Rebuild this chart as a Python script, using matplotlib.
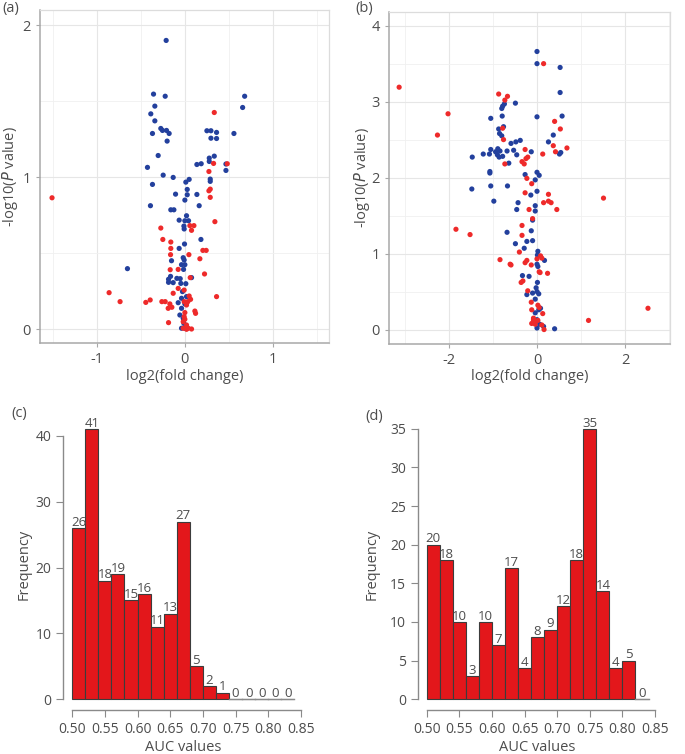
import numpy as np
import matplotlib
matplotlib.use("Agg")
import matplotlib.pyplot as plt

plt.rcParams['font.family'] = ['Open Sans', 'DejaVu Sans']

# ---- panel (a) volcano data
a_blue_x = [-0.213, -0.357, -0.224, -0.342, -0.388, -0.342, -0.274, -0.255, -0.209, -0.369,
            -0.179, -0.202, -0.304, -0.426, -0.247, -0.133, -0.369, -0.106, -0.392, -0.160,
            -0.125, -0.654, 0.681, 0.658, 0.559, 0.251, 0.297, 0.361, 0.297, 0.361,
            0.335, 0.278, 0.278, 0.186, 0.137, 0.468, 0.468, 0.289, 0.289, 0.049,
            0.011, 0.027, 0.027, 0.137, 0.0, 0.163, 0.019, -0.065, 0.0, 0.042,
            -0.011, -0.008, 0.183, -0.004, -0.065, -0.019, -0.008, -0.152, -0.038, 0.0,
            -0.015, 0.076, -0.163, -0.186, -0.186, -0.091, -0.053, -0.046, 0.011, -0.133,
            -0.027, -0.038, -0.076, -0.038, -0.057, -0.019, -0.038, 0.0, -0.011, 0.019, 0.0]
a_blue_y = [1.90, 1.547, 1.533, 1.468, 1.417, 1.371, 1.321, 1.308, 1.308, 1.288,
            1.288, 1.238, 1.143, 1.065, 1.014, 0.999, 0.953, 0.889, 0.813, 0.786,
            0.786, 0.399, 1.533, 1.459, 1.288, 1.306, 1.306, 1.295, 1.257, 1.255,
            1.139, 1.126, 1.104, 1.089, 1.084, 1.087, 1.045, 0.988, 0.973, 0.986,
            0.968, 0.920, 0.885, 0.887, 0.850, 0.813, 0.747, 0.718, 0.714, 0.714,
            0.679, 0.660, 0.591, 0.561, 0.532, 0.471, 0.456, 0.451, 0.425, 0.425,
            0.394, 0.340, 0.348, 0.329, 0.309, 0.335, 0.333, 0.302, 0.300, 0.307,
            0.248, 0.204, 0.175, 0.138, 0.094, 0.072, 0.007, 0.007, 0.039, 0.215, 0.167]
a_red_x = [-1.513, 0.335, 0.327, 0.483, 0.274, 0.274, 0.289, 0.289, 0.342, 0.057,
           0.103, 0.076, -0.274, -0.251, -0.160, -0.160, 0.205, 0.243, -0.163, 0.046,
           0.171, -0.167, -0.076, 0.224, 0.061, -0.863, -0.738, -0.445, -0.395, -0.262,
           -0.224, -0.171, -0.148, -0.190, -0.186, -0.133, -0.076, -0.008, 0.049, 0.065,
           0.034, -0.008, 0.019, 0.361, 0.114, 0.122, 0.0, -0.008, -0.019, 0.019,
           0.038, 0.076, 0.019, -0.019, 0.0]
a_red_y = [0.865, 1.426, 1.091, 1.089, 1.038, 0.911, 0.922, 0.868, 0.708, 0.682,
           0.682, 0.651, 0.666, 0.591, 0.574, 0.532, 0.519, 0.519, 0.491, 0.491,
           0.464, 0.392, 0.394, 0.364, 0.340, 0.241, 0.182, 0.177, 0.193, 0.182,
           0.182, 0.167, 0.145, 0.138, 0.044, 0.237, 0.269, 0.258, 0.219, 0.197,
           0.182, 0.182, 0.160, 0.215, 0.120, 0.105, 0.110, 0.083, 0.050, 0.028,
           0.007, 0.002, 0.0, 0.007, 0.066]

# ---- panel (b) volcano data
b_blue_x = [0.0, 0.0, 0.525, 0.525, -0.49, -0.74, -0.78, -0.80, 0.0, 0.57,
            -0.79, -1.05, -0.76, -0.87, -0.85, -0.80, 0.37, -0.38, -0.48, -0.59,
            0.26, -0.68, -0.53, -1.05, -0.89, -0.84, -1.22, -1.08, -0.94, -0.90,
            -0.86, -0.78, -0.46, -0.13, -1.47, 0.51, 0.54, -0.64, -1.07, -1.07,
            -0.27, 0.0, 0.05, -0.04, -1.48, -1.05, -0.67, 0.0, -0.14, -0.43,
            -0.98, -0.46, -0.04, -0.04, -0.10, -0.68, -0.13, -0.10, -0.23, -0.49,
            -0.29, 0.02, 0.01, 0.17, 0.0, 0.02, -0.33, -0.18, 0.01, -0.02,
            0.0, 0.04, -0.23, -0.10, -0.04, 0.04, 0.08, -0.04, 0.0, -0.05,
            0.15, 0.0, 0.40, 0.06]
b_blue_y = [3.66, 3.50, 3.45, 3.12, 2.98, 2.97, 2.94, 2.91, 2.80, 2.81,
            2.81, 2.78, 2.67, 2.64, 2.58, 2.55, 2.56, 2.49, 2.47, 2.45,
            2.47, 2.35, 2.36, 2.37, 2.38, 2.35, 2.31, 2.31, 2.34, 2.30,
            2.27, 2.28, 2.30, 2.34, 2.27, 2.31, 2.33, 2.19, 2.08, 2.06,
            2.04, 2.07, 2.03, 1.97, 1.85, 1.89, 1.89, 1.82, 1.77, 1.67,
            1.69, 1.58, 1.63, 1.56, 1.44, 1.28, 1.30, 1.17, 1.16, 1.13,
            1.07, 1.03, 0.98, 0.91, 0.86, 0.83, 0.71, 0.70, 0.62, 0.55,
            0.50, 0.47, 0.46, 0.48, 0.40, 0.26, 0.28, 0.22, 0.13, 0.09,
            0.04, 0.02, 0.01, 0.07]
b_red_x = [-3.13, -2.02, -2.26, -1.84, -1.52, 1.51, 2.52, 1.17, 0.15, -0.87,
           -0.67, -0.73, -0.78, -0.76, -0.73, 0.40, 0.53, 0.37, 0.68, 0.42,
           0.13, -0.27, -0.21, -0.25, -0.34, -0.29, -0.23, -0.12, -0.27, 0.26,
           0.15, 0.26, 0.32, 0.45, -0.18, -0.10, -0.34, -0.34, -0.40, 0.08,
           0.11, 0.0, -0.84, -0.23, -0.27, -0.59, -0.61, -0.13, 0.05, 0.07,
           0.24, -0.32, -0.36, -0.21, -0.13, 0.02, 0.05, -0.12, 0.13, -0.08,
           -0.08, 0.02, -0.12, 0.11, 0.16, -0.04, -0.08]
b_red_y = [3.19, 2.84, 2.56, 1.32, 1.25, 1.73, 0.28, 0.12, 3.50, 3.10,
           3.07, 3.02, 2.65, 2.50, 2.18, 2.74, 2.64, 2.42, 2.39, 2.34,
           2.31, 2.37, 2.27, 2.25, 2.21, 2.18, 1.99, 1.92, 1.80, 1.78,
           1.67, 1.69, 1.67, 1.58, 1.58, 1.46, 1.37, 1.24, 1.02, 0.97,
           0.94, 0.93, 0.92, 0.91, 0.88, 0.85, 0.86, 0.85, 0.76, 0.75,
           0.74, 0.64, 0.62, 0.51, 0.36, 0.32, 0.29, 0.26, 0.21, 0.15,
           0.13, 0.12, 0.08, 0.06, 0.00, 0.07, 0.11]

# ---- panel (c), (d) histogram counts (bins of 0.02 from 0.50 to 0.84)
c_counts = [26, 41, 18, 19, 15, 16, 11, 13, 27, 5, 2, 1, 0, 0, 0, 0, 0]
d_counts = [20, 18, 10, 3, 10, 7, 17, 4, 8, 9, 12, 18, 35, 14, 4, 5, 0]
bin_start = 0.50
bin_width = 0.02
auc_ticks = [0.50, 0.55, 0.60, 0.65, 0.70, 0.75, 0.80, 0.85]

BLUE = '#23409d'
RED = '#ee2a2a'
TXT = '#4d4d4d'

fig = plt.figure(figsize=(6.85, 7.54), dpi=100)


def volcano(rect, bx, by, rx, ry, xlim, ylim, xmaj, xmin, ymaj, ymin, xticklabels, ylab_x):
    ax = fig.add_axes(rect)
    ax.set_xlim(*xlim)
    ax.set_ylim(*ylim)
    ax.set_xticks(xmaj)
    ax.set_xticks(xmin, minor=True)
    ax.set_yticks(ymaj)
    ax.set_yticks(ymin, minor=True)
    ax.set_xticklabels(xticklabels)
    ax.grid(True, which='major', color='#e6e6e6', lw=0.8)
    ax.grid(True, which='minor', color='#f0f0f0', lw=0.6)
    ax.set_axisbelow(True)
    for s in ['top', 'right']:
        ax.spines[s].set_color('#dcdcdc')
        ax.spines[s].set_linewidth(0.9)
    for s in ['left', 'bottom']:
        ax.spines[s].set_color('#a8a8a8')
        ax.spines[s].set_linewidth(1.1)
    ax.tick_params(which='major', length=3, color='#a8a8a8', labelcolor=TXT, labelsize=10.5)
    ax.tick_params(which='minor', length=0)
    ax.scatter(bx, by, s=14, color=BLUE, edgecolors='none', zorder=3)
    ax.scatter(rx, ry, s=14, color=RED, edgecolors='none', zorder=3)
    ax.set_xlabel('log2(fold change)', color=TXT, fontsize=10.5, labelpad=1)
    ax.set_ylabel('-log10($\\it{P}$ value)', color=TXT, fontsize=10.5)
    ax.yaxis.set_label_coords(ylab_x, 0.5)
    return ax


volcano([0.0584, 0.5447, 0.4223, 0.442], a_blue_x, a_blue_y, a_red_x, a_red_y,
        (-1.65, 1.645), (-0.092, 2.1), [-1, 0, 1], [-1.5, -0.5, 0.5, 1.5],
        [0, 1, 2], [0.5, 1.5], ['-1', '0', '1'], -0.07)
volcano([0.5679, 0.5438, 0.4102, 0.4403], b_blue_x, b_blue_y, b_red_x, b_red_y,
        (-3.36, 3.02), (-0.19, 4.18), [-2, 0, 2], [-3, -1, 1, 3],
        [0, 1, 2, 3, 4], [0.5, 1.5, 2.5, 3.5], ['-2', '0', '2'], -0.06)


def hist(rect, counts, ytop, ystep, ylab_x):
    ax = fig.add_axes(rect)
    edges = bin_start + bin_width * np.arange(len(counts))
    ax.bar(edges, counts, width=bin_width, align='edge', color='#e3171b',
           edgecolor='#3c3c3c', linewidth=0.8)
    nz = [i for i, c in enumerate(counts) if c == 0]
    for i in nz:
        ax.plot([edges[i], edges[i] + bin_width], [0, 0], color='#8a8a8a', lw=1.0)
    for x, c in zip(edges, counts):
        ax.annotate(str(c), (x + bin_width / 2, c), xytext=(0, -0.5), textcoords='offset points',
                    ha='center', va='bottom', fontsize=9.5, color=TXT)
    top = max(counts)
    ax.set_ylim(-0.04 * top, top * 1.04)
    ax.set_xlim(0.4864, 0.8536)
    for s in ['top', 'right']:
        ax.spines[s].set_visible(False)
    for s in ['left', 'bottom']:
        ax.spines[s].set_color('#8a8a8a')
        ax.spines[s].set_linewidth(1.0)
    ax.spines['left'].set_bounds(0, ytop)
    ax.spines['bottom'].set_bounds(0.50, 0.85)
    ax.set_yticks(np.arange(0, ytop + 1, ystep))
    ax.set_xticks(auc_ticks)
    ax.set_xticklabels(['%.2f' % t for t in auc_ticks])
    ax.tick_params(length=5, color='#8a8a8a', labelcolor=TXT, labelsize=10)
    ax.set_xlabel('AUC values', color=TXT, fontsize=10.5, labelpad=2)
    ax.set_ylabel('Frequency', color=TXT, fontsize=10.5)
    ax.yaxis.set_label_coords(ylab_x, 0.5)
    return ax


hist([0.0924, 0.0584, 0.3504, 0.3864], c_counts, 40, 10, -0.13)
hist([0.610, 0.0584, 0.3497, 0.3872], d_counts, 35, 5, -0.16)

for lab, x, y in [('(a)', 0.003, 0.999), ('(b)', 0.519, 0.999),
                  ('(c)', 0.017, 0.461), ('(d)', 0.533, 0.458)]:
    fig.text(x, y, lab, fontsize=10.5, color=TXT, ha='left', va='top')

fig.savefig('out.png', dpi=100)
